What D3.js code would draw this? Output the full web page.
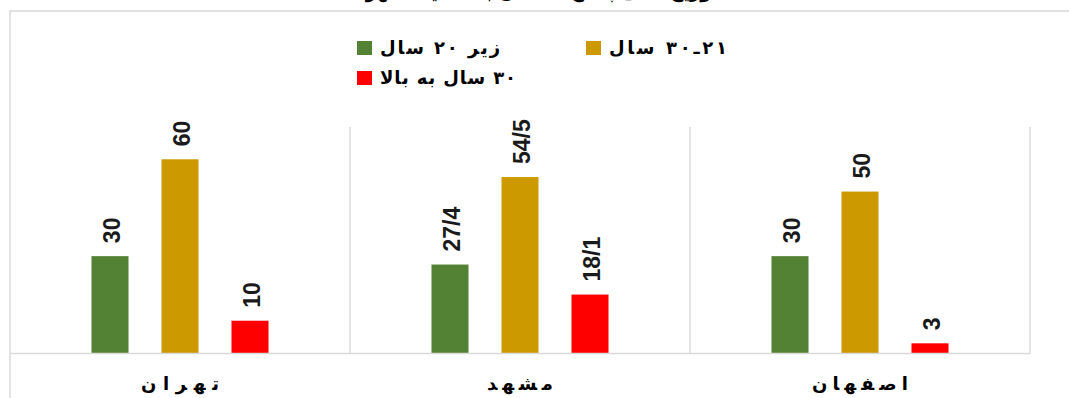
<!DOCTYPE html>
<html lang="fa">
<head>
<meta charset="utf-8">
<script src="https://cdn.jsdelivr.net/npm/d3@7"></script>
<style>
  html, body { margin: 0; padding: 0; background: #ffffff; }
  svg { display: block; }
  .fa { direction: rtl; unicode-bidi: embed; font-family: 'DejaVu Sans', sans-serif; font-weight: bold; }
</style>
</head>
<body>
<svg id="chart" width="1069" height="398"></svg>
<script>
// Cities along the axis (left to right) and the three age groups
const cities = ["تهران", "مشهد", "اصفهان"];
const groups = ["زیر ۲۰ سال", "۲۱ـ۳۰ سال", "۳۰ سال به بالا"];
const groupColors = ["#548235", "#CC9900", "#FF0000"];

// Percentages per age group, in city order
const under20 = [30, 27.4, 30];
const age21to30 = [60, 54.5, 50];
const over30 = [10, 18.1, 3];

// Label text as printed (decimal separator "/")
const under20Labels = ["30", "27/4", "30"];
const age21to30Labels = ["60", "54/5", "50"];
const over30Labels = ["10", "18/1", "3"];

const yTicks = [0, 70];

const seriesValues = [under20, age21to30, over30];
const seriesLabels = [under20Labels, age21to30Labels, over30Labels];

const svg = d3.select("#chart");
const gridColor = "#d9d9d9";

// Spread Persian text out to a set width
function spreadTo(sel, widthOf) {
  sel.each(function (d) {
    d3.select(this).attr("textLength", widthOf(d)).attr("lengthAdjust", "spacing");
  });
}

// Title (sits above the visible frame)
svg.append("text")
  .attr("class", "fa")
  .attr("x", 542).attr("y", -2)
  .attr("text-anchor", "middle")
  .style("font-size", "18px")
  .attr("fill", "#000")
  .text("توزیع سنی پاسخ‌دهندگان به تفکیک شهر");

// Outer chart frame
svg.append("rect")
  .attr("x", 10).attr("y", 11)
  .attr("width", 1080).attr("height", 420)
  .attr("fill", "none")
  .attr("stroke", gridColor)
  .attr("stroke-width", 1.5);

const plot = { left: 10, right: 1030, top: 127, bottom: 353 };

const x0 = d3.scaleBand()
  .domain(cities)
  .range([plot.left, plot.right])
  .paddingInner(0).paddingOuter(0);

const x1 = d3.scaleBand()
  .domain(groups)
  .range([0, x0.bandwidth()])
  .paddingInner(0.471)
  .paddingOuter(1.164);

const y = d3.scaleLinear()
  .domain(d3.extent(yTicks))
  .range([plot.bottom, plot.top]);

// Category separators
const seps = cities.map(c => x0(c) + x0.bandwidth());
svg.append("g").selectAll("line")
  .data(seps)
  .join("line")
  .attr("x1", d => d).attr("x2", d => d)
  .attr("y1", y(yTicks[1])).attr("y2", plot.bottom)
  .attr("stroke", gridColor)
  .attr("stroke-width", 1.5);

// Bars
const rows = [];
cities.forEach((c, i) => {
  groups.forEach((g, j) => {
    rows.push({ city: c, group: g, value: seriesValues[j][i], label: seriesLabels[j][i], color: groupColors[j] });
  });
});

svg.append("g").selectAll("rect")
  .data(rows)
  .join("rect")
  .attr("x", d => x0(d.city) + x1(d.group))
  .attr("y", d => y(d.value))
  .attr("width", x1.bandwidth())
  .attr("height", d => y(0) - y(d.value))
  .attr("fill", d => d.color);

// Baseline (category axis)
const cityLabelWidth = { "تهران": 78, "مشهد": 66, "اصفهان": 96 };
const xAxis = svg.append("g")
  .attr("transform", `translate(0,${plot.bottom})`)
  .call(d3.axisBottom(x0).tickSize(0).tickPadding(24));
xAxis.select(".domain")
  .attr("stroke", gridColor)
  .attr("stroke-width", 1.5);
xAxis.selectAll("text")
  .attr("class", "fa")
  .style("font-size", "18px")
  .attr("fill", "#000")
  .call(spreadTo, d => cityLabelWidth[d]);

// Value labels, rotated
svg.append("g").selectAll("text")
  .data(rows)
  .join("text")
  .attr("transform", d => {
    const cx = x0(d.city) + x1(d.group) + x1.bandwidth() / 2 + 1.5;
    return `translate(${cx},${y(d.value) - 13}) rotate(-90)`;
  })
  .attr("dy", "0.36em")
  .attr("text-anchor", "start")
  .style("font-family", "'Liberation Sans', Arial, sans-serif")
  .style("font-weight", "bold")
  .style("font-size", "23px")
  .attr("fill", "#1a1a1a")
  .text(d => d.label);

// Legend
const legendItems = [
  { name: groups[0], color: groupColors[0], x: 357, y: 48, w: 120 },
  { name: groups[1], color: groupColors[1], x: 586, y: 48, w: 118 },
  { name: groups[2], color: groupColors[2], x: 357, y: 78, w: 136 }
];
const lg = svg.append("g").selectAll("g")
  .data(legendItems)
  .join("g")
  .attr("transform", d => `translate(${d.x},${d.y})`);
lg.append("rect")
  .attr("x", 0).attr("y", -7)
  .attr("width", 15).attr("height", 14)
  .attr("fill", d => d.color);
lg.append("text")
  .attr("class", "fa")
  .attr("x", 23)
  .attr("dy", "0.35em")
  .attr("text-anchor", "end")
  .style("font-size", "18px")
  .attr("fill", "#000")
  .text(d => d.name)
  .call(spreadTo, d => d.w);
</script>
</body>
</html>
